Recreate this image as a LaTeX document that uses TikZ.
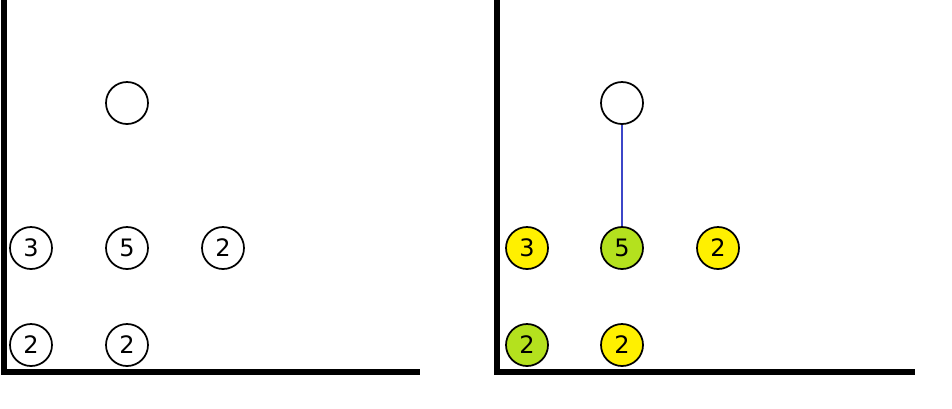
\documentclass[tikz,border=0pt]{standalone}
\usepackage{fontspec}
\setmainfont{DejaVu Sans}
\definecolor{lime}{RGB}{180,225,30}
\definecolor{yel}{RGB}{255,240,0}
\definecolor{edgeblue}{RGB}{60,70,200}
\begin{document}
\begin{tikzpicture}[x=0.75pt,y=-0.75pt]
\tikzset{
  num/.style={circle, draw, line width=1.3pt, minimum size=31.5pt, inner sep=0pt, font=\fontsize{18}{18}\selectfont},
  axis/.style={line width=4.5pt}
}
\useasboundingbox (0,0) rectangle (952,408);
% left panel
\draw[axis] (4,0) -- (4,372) -- (420,372);
\node[num] (lt) at (127,103) {};
\node[num] (la) at (31,248) {3};
\node[num] (lb) at (127,248) {5};
\node[num] (lc) at (223,248) {2};
\node[num] (ld) at (31,345) {2};
\node[num] (le) at (127,345) {2};
% right panel
\draw[axis] (497,0) -- (497,372) -- (915,372);
\node[num] (rt) at (622,103) {};
\node[num, fill=yel] (ra) at (527,248) {3};
\node[num, fill=lime] (rb) at (622,248) {5};
\node[num, fill=yel] (rc) at (718,248) {2};
\node[num, fill=lime] (rd) at (527,345) {2};
\node[num, fill=yel] (re) at (622,345) {2};
\draw[edgeblue, line width=1.5pt] (rt) -- (rb);
\end{tikzpicture}
\end{document}
